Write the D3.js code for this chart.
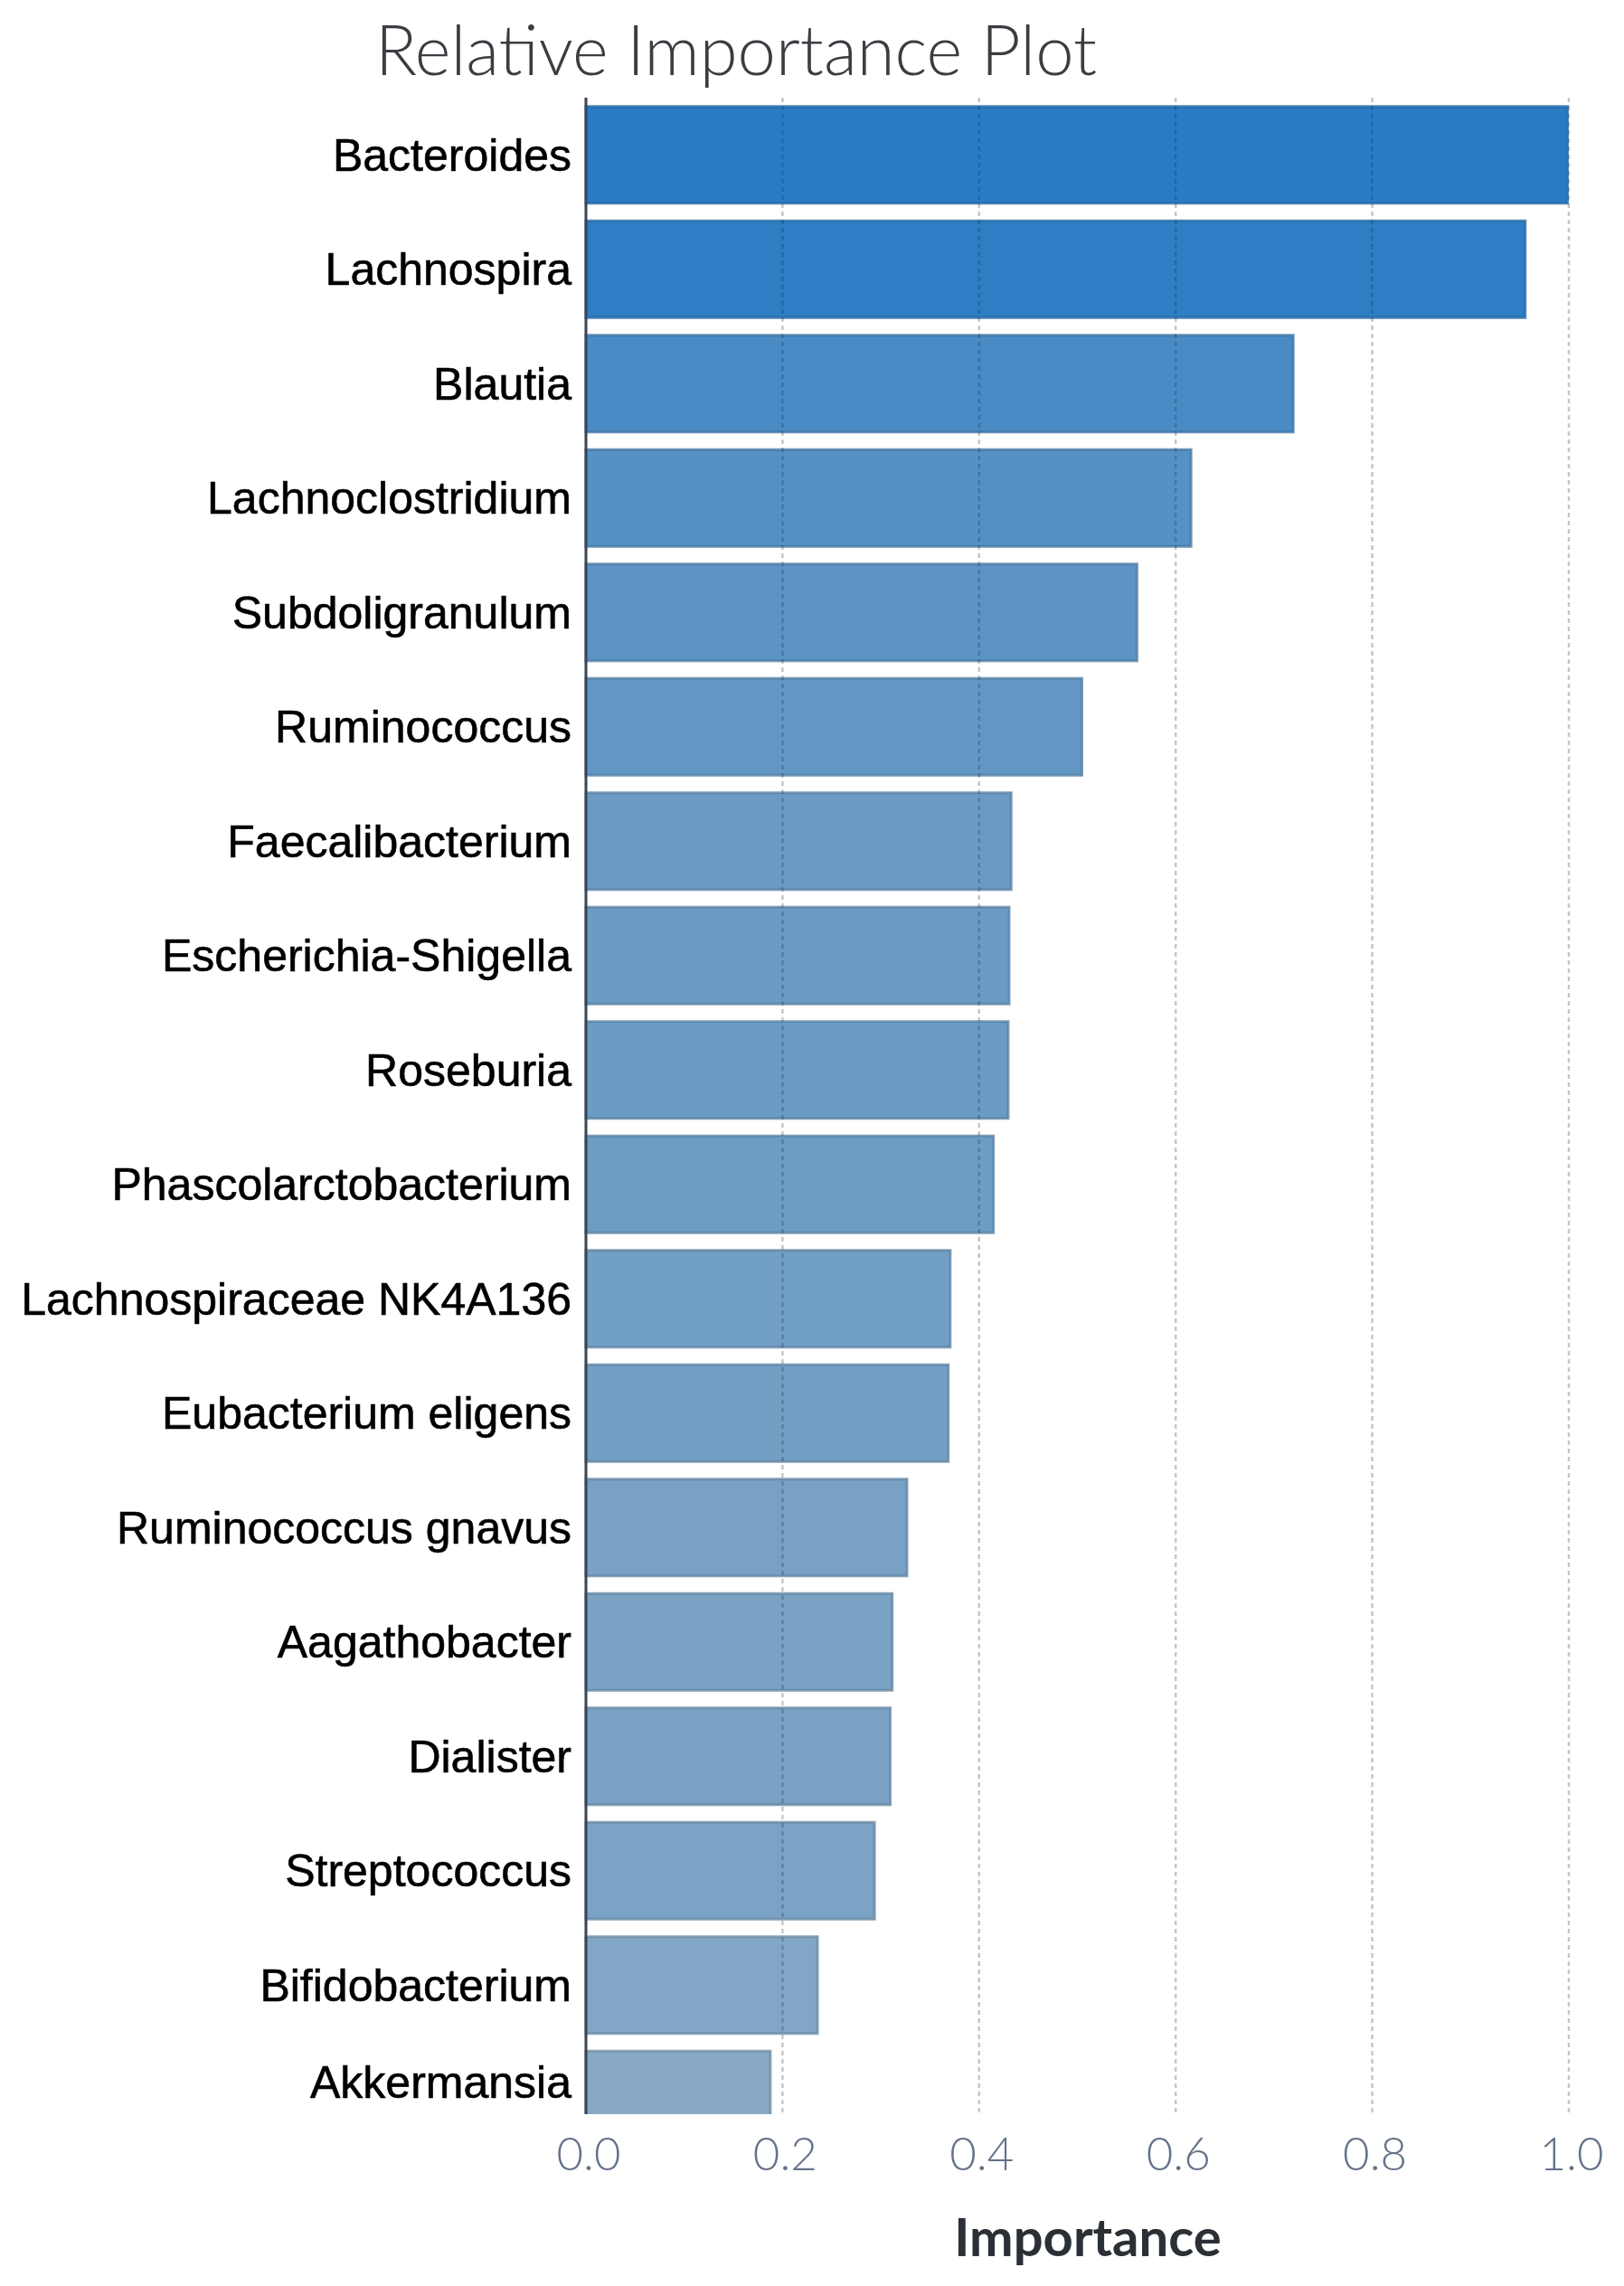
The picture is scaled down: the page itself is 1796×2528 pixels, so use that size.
<!DOCTYPE html>
<html>
<head>
<meta charset="utf-8">
<script src="https://cdn.jsdelivr.net/npm/d3@7"></script>
<style>
  html, body { margin: 0; padding: 0; background: #fff; }
  svg { display: block; }
</style>
</head>
<body>
<div id="chart"></div>
<script>
// data
const GENERA = [
  "Bacteroides", "Lachnospira", "Blautia", "Lachnoclostridium", "Subdoligranulum",
  "Ruminococcus", "Faecalibacterium", "Escherichia-Shigella", "Roseburia",
  "Phascolarctobacterium", "Lachnospiraceae NK4A136", "Eubacterium eligens",
  "Ruminococcus gnavus", "Aagathobacter", "Dialister", "Streptococcus",
  "Bifidobacterium", "Akkermansia"
];
const IMPORTANCE = [
  1.000, 0.957, 0.721, 0.617, 0.562,
  0.506, 0.434, 0.432, 0.431,
  0.416, 0.372, 0.370,
  0.328, 0.313, 0.311, 0.295,
  0.237, 0.189
];
const X_TICKS = [0, 0.2, 0.4, 0.6, 0.8, 1.0];
const TITLE = "Relative Importance Plot";
const X_TITLE = "Importance";

const WIDTH = 1796;
const HEIGHT = 2528;
const PLOT_LEFT = 648;
const PLOT_RIGHT = 1735;
const PLOT_TOP = 108;
const PLOT_BOTTOM = 2338;
const STEP = 126.5;

const ROWS = GENERA.map((name, i) => ({name: name, value: IMPORTANCE[i]}));

const SVG = d3.select("#chart").append("svg")
  .attr("width", WIDTH)
  .attr("height", HEIGHT);

const X = d3.scaleLinear()
  .domain([0, 1])
  .range([PLOT_LEFT, PLOT_RIGHT]);

const Y = d3.scaleBand()
  .domain(GENERA)
  .range([PLOT_TOP, PLOT_TOP + STEP * GENERA.length])
  .paddingInner(0.13)
  .paddingOuter(0.065);

const COLOR = d3.scaleLinear()
  .domain(d3.extent(IMPORTANCE))
  .range(["#88a9c5", "#287cc4"])
  .interpolate(d3.interpolateRgb);

// clip: the last bar is cut by the bottom of the plot
SVG.append("defs").append("clipPath")
  .attr("id", "plot-clip")
  .append("rect")
  .attr("x", PLOT_LEFT - 5)
  .attr("y", PLOT_TOP)
  .attr("width", WIDTH - PLOT_LEFT)
  .attr("height", PLOT_BOTTOM - PLOT_TOP);

const PLOT = SVG.append("g").attr("clip-path", "url(#plot-clip)");

// BARS
PLOT.selectAll(".bar")
  .data(ROWS)
  .enter()
  .append("rect")
  .attr("class", "bar")
  .attr("x", X(0))
  .attr("y", d => Y(d.name) + 1.5)
  .attr("width", d => X(d.value) - X(0) - 1.5)
  .attr("height", Y.bandwidth() - 3)
  .attr("fill", d => COLOR(d.value))
  .attr("stroke", d => d3.color(COLOR(d.value)).darker(0.55))
  .attr("stroke-opacity", 0.75)
  .attr("stroke-width", 3);

// GRID
SVG.selectAll(".grid")
  .data(X_TICKS)
  .enter()
  .append("line")
  .attr("class", "grid")
  .attr("x1", d => X(d))
  .attr("x2", d => X(d))
  .attr("y1", PLOT_TOP)
  .attr("y2", PLOT_BOTTOM)
  .attr("stroke", "rgba(30,40,55,0.26)")
  .attr("stroke-width", 2.5)
  .attr("stroke-dasharray", "5,4");

// Y AXIS LINE
SVG.append("line")
  .attr("x1", X(0))
  .attr("x2", X(0))
  .attr("y1", PLOT_TOP)
  .attr("y2", PLOT_BOTTOM)
  .attr("stroke", "#3a4656")
  .attr("stroke-width", 3);

// Y LABELS (centred on the visible part of each bar)
SVG.selectAll(".ylabel")
  .data(ROWS)
  .enter()
  .append("text")
  .attr("class", "ylabel")
  .attr("x", PLOT_LEFT - 16)
  .attr("y", d => {
    const top = Math.max(Y(d.name), PLOT_TOP);
    const bottom = Math.min(Y(d.name) + Y.bandwidth(), PLOT_BOTTOM);
    return (top + bottom) / 2 + 17.5;
  })
  .attr("text-anchor", "end")
  .attr("font-family", "Arial, 'Liberation Sans', sans-serif")
  .attr("font-size", 50)
  .attr("fill", "#000")
  .attr("stroke", "#000")
  .attr("stroke-width", 0.6)
  .text(d => d.name);

// X TICK LABELS
SVG.selectAll(".xtick")
  .data(X_TICKS)
  .enter()
  .append("text")
  .attr("class", "xtick")
  .attr("x", d => X(d) + 3)
  .attr("y", 2400)
  .attr("text-anchor", "middle")
  .attr("font-family", "Lato, sans-serif")
  .attr("font-weight", 300)
  .attr("font-size", 51)
  .attr("fill", "#65728a")
  .text(d => d3.format(".1f")(d));

// X TITLE
SVG.append("text")
  .attr("x", 1203)
  .attr("y", 2495)
  .attr("text-anchor", "middle")
  .attr("font-family", "Lato, sans-serif")
  .attr("font-weight", 700)
  .attr("font-size", 58)
  .attr("fill", "#2b2f36")
  .text(X_TITLE);

// TITLE
SVG.append("text")
  .attr("x", 814)
  .attr("y", 83)
  .attr("text-anchor", "middle")
  .attr("font-family", "Lato, sans-serif")
  .attr("font-weight", 300)
  .attr("font-size", 76)
  .attr("fill", "#3a3d42")
  .text(TITLE);
</script>
</body>
</html>
